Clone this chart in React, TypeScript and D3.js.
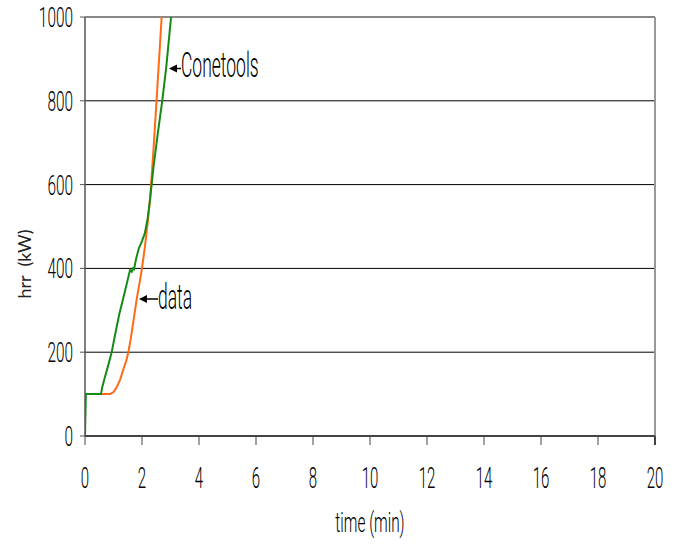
import React from "react";
import * as d3 from "d3";

const xTicks = [0, 2, 4, 6, 8, 10, 12, 14, 16, 18, 20];
const yTicks = [0, 200, 400, 600, 800, 1000];
const gridValues = [200, 400, 600, 800];

const conetoolsTime = [0, 0.03, 0.56, 0.6, 0.7, 0.8, 0.94, 1.05, 1.2, 1.4, 1.58, 1.64, 1.68, 1.72, 1.8, 1.89, 2.0, 2.1, 2.2, 2.28, 2.4, 2.55, 2.71, 2.85, 3.02];
const conetoolsHrr = [0, 100, 100, 115, 141, 165, 201, 240, 290, 345, 396, 392, 400, 398, 425, 448, 465, 484, 520, 563, 640, 720, 800, 880, 1000];

const dataTime = [0, 0.88, 1.0, 1.1, 1.23, 1.35, 1.45, 1.52, 1.6, 1.7, 1.81, 1.9, 1.99, 2.1, 2.2, 2.28, 2.4, 2.51, 2.6, 2.69];
const dataHrr = [100, 100, 105, 115, 134, 160, 180, 200, 230, 275, 325, 360, 396, 450, 510, 563, 680, 800, 900, 1000];

const W = 681;
const H = 546;
const X0 = 85, X1 = 655, Y0 = 436, Y1 = 17;

const NARROW = "Roboto, 'Liberation Sans', sans-serif";

function NText({ x, y, size, sx, anchor, children, fill = "#000" }: any) {
  return (
    <text
      transform={`translate(${x},${y}) scale(${sx},1)`}
      fontFamily={NARROW}
      fontWeight={300}
      fontSize={size}
      textAnchor={anchor}
      fill={fill}
    >
      {children}
    </text>
  );
}

export default function App() {
  const x = d3.scaleLinear().domain([0, 20]).range([X0, X1]);
  const y = d3.scaleLinear().domain([0, 1000]).range([Y0, Y1]);
  const line = d3
    .line<[number, number]>()
    .x((d) => x(d[0]))
    .y((d) => y(d[1]));
  const green = conetoolsTime.map((t, i) => [t, conetoolsHrr[i]] as [number, number]);
  const orange = dataTime.map((t, i) => [t, dataHrr[i]] as [number, number]);

  return (
    <svg width={W} height={H} style={{ position: "absolute", left: 0, top: 0, background: "#fff" }}>
      <defs>
        <clipPath id="plot">
          <rect x={X0} y={Y1} width={X1 - X0} height={Y0 - Y1} />
        </clipPath>
      </defs>
      {gridValues.map((v) => (
        <line key={v} x1={X0} x2={X1} y1={y(v)} y2={y(v)} stroke="#000" strokeWidth={1} />
      ))}
      <line x1={X0} x2={X1} y1={y(1000)} y2={y(1000)} stroke="#888" strokeWidth={2} />
      <line x1={X1} x2={X1} y1={Y1} y2={Y0} stroke="#999" strokeWidth={2} />
      <line x1={X0} x2={X0} y1={Y1} y2={Y0} stroke="#555" strokeWidth={1.5} />
      {yTicks.map((v) => (
        <line key={v} x1={X0 - 5} x2={X0} y1={y(v)} y2={y(v)} stroke="#555" strokeWidth={1} />
      ))}
      {xTicks.map((v) => (
        <line key={v} x1={x(v)} x2={x(v)} y1={Y0} y2={Y0 + 9} stroke="#444" strokeWidth={v === 20 ? 2 : 1} />
      ))}
      <g clipPath="url(#plot)">
        <path d={line(orange) || ""} fill="none" stroke="#ff6a13" strokeWidth={2} />
        <path d={line(green) || ""} fill="none" stroke="#168a16" strokeWidth={2} />
      </g>
      <line x1={X0} x2={X1} y1={Y0} y2={Y0} stroke="#444" strokeWidth={2} />
      {yTicks.map((v) => (
        <NText key={v} x={73} y={y(v) + 10} size={28} sx={0.55} anchor="end">
          {v}
        </NText>
      ))}
      {xTicks.map((v) => (
        <NText key={v} x={x(v)} y={488} size={30} sx={0.5} anchor="middle">
          {v}
        </NText>
      ))}
      <NText x={370} y={532} size={28} sx={0.55} anchor="middle">
        time (min)
      </NText>
      <text
        transform={`translate(31,${264}) rotate(-90)`}
        fontFamily="Lato, 'DejaVu Sans', sans-serif"
        fontWeight={400}
        fontSize={18}
        textAnchor="middle"
        fill="#222"
        style={{ whiteSpace: "pre" }}
      >
        {"hrr  (kW)"}
      </text>
      <line x1={175} x2={181} y1={68.5} y2={68.5} stroke="#000" strokeWidth={1.5} />
      <path d="M169,68.5 L177,64.5 L177,72.5 Z" fill="#000" />
      <NText x={181} y={77} size={35} sx={0.5} anchor="start">
        Conetools
      </NText>
      <line x1={146} x2={158} y1={299} y2={299} stroke="#000" strokeWidth={1.5} />
      <path d="M139,299 L147,295 L147,303 Z" fill="#000" />
      <NText x={158} y={309} size={35} sx={0.5} anchor="start">
        data
      </NText>
    </svg>
  );
}
